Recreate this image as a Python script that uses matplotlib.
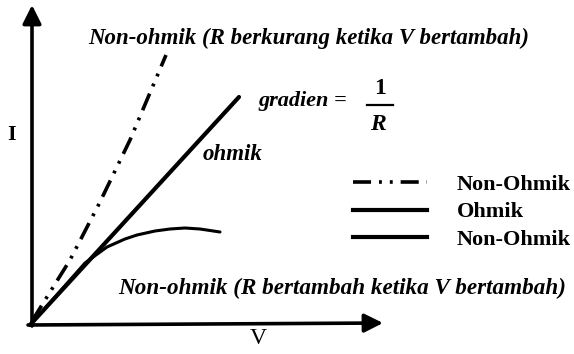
import matplotlib
matplotlib.use("Agg")
import matplotlib.pyplot as plt
from matplotlib.lines import Line2D

# ---- data (V, I in arbitrary units; origin of the sketch at 0,0) ----
v_dashdot = [2, 40, 69, 100, 136]
i_dashdot = [4, 65, 121, 185, 270]

v_ohmic = [0, 209]
i_ohmic = [0, 228]

v_nonohmic = [0, 25, 55, 77, 95, 107, 125, 140, 155, 170, 190]
i_nonohmic = [0, 28, 62, 78, 86, 90, 94, 96, 97, 96, 93]

legend_labels = ["Non-Ohmik", "Ohmik", "Non-Ohmik"]

title_top = "Non-ohmik (R berkurang ketika V bertambah)"
title_bottom = "Non-ohmik (R bertambah ketika V bertambah)"

fig = plt.figure(figsize=(5.74, 3.54), dpi=100)
ax = fig.add_axes([0, 0, 1, 1])
ax.set_xlim(-30, 544)
ax.set_ylim(-29, 325)
ax.axis("off")

serif = "Liberation Serif"

# axes arrows
ax.annotate("", xy=(353, 2), xytext=(-2, 0),
            arrowprops=dict(arrowstyle="-|>", lw=2.6, color="black",
                            mutation_scale=28, shrinkA=0, shrinkB=0))
ax.annotate("", xy=(2, 320), xytext=(2, -1),
            arrowprops=dict(arrowstyle="-|>", lw=2.6, color="black",
                            mutation_scale=28, shrinkA=0, shrinkB=0))

dd = (5, 2.2, 0.8, 2.2, 0.8, 2.2)
l1, = ax.plot(v_dashdot, i_dashdot, color="black", lw=2.6,
              dashes=dd, solid_capstyle="butt")
l2, = ax.plot(v_ohmic, i_ohmic, color="black", lw=3.0, solid_capstyle="round")
l3, = ax.plot(v_nonohmic, i_nonohmic, color="black", lw=2.2,
              solid_joinstyle="round", solid_capstyle="round")

# legend
h1 = Line2D([], [], color="black", lw=2.6, dashes=dd)
h2 = Line2D([], [], color="black", lw=3.0)
h3 = Line2D([], [], color="black", lw=3.0)
leg = ax.legend([h1, h2, h3], legend_labels, frameon=False,
                loc="upper left", bbox_to_anchor=(0.615, 0.508),
                prop=dict(family=serif, size=16, weight="bold"),
                handlelength=3.33, handletextpad=1.35, labelspacing=0.32,
                borderpad=0, borderaxespad=0)

# annotations
ax.text(58, 287, title_top, family=serif, style="italic", weight="bold",
        fontsize=16.5, ha="left", va="center")
ax.text(88, 37, title_bottom, family=serif, style="italic", weight="bold",
        fontsize=16.7, ha="left", va="center")
ax.text(203, 170, "ohmik", family=serif, style="italic", weight="bold",
        fontsize=16.5, ha="center", va="center")
ax.text(228, 224, "gradien =", family=serif, style="italic", weight="bold",
        fontsize=16, ha="left", va="center")
ax.text(350, 237, "1", family=serif, weight="bold",
        fontsize=17, ha="center", va="center")
ax.plot([337, 363], [220, 220], color="black", lw=1.6)
ax.text(348, 200, "R", family=serif, style="italic", weight="bold",
        fontsize=17, ha="center", va="center")

ax.text(228, -13, "V", family=serif, fontsize=17, ha="center", va="center")
ax.text(-18, 190, "I", family=serif, fontsize=16, weight="bold",
        ha="center", va="center")

fig.savefig("out.png", dpi=100)
